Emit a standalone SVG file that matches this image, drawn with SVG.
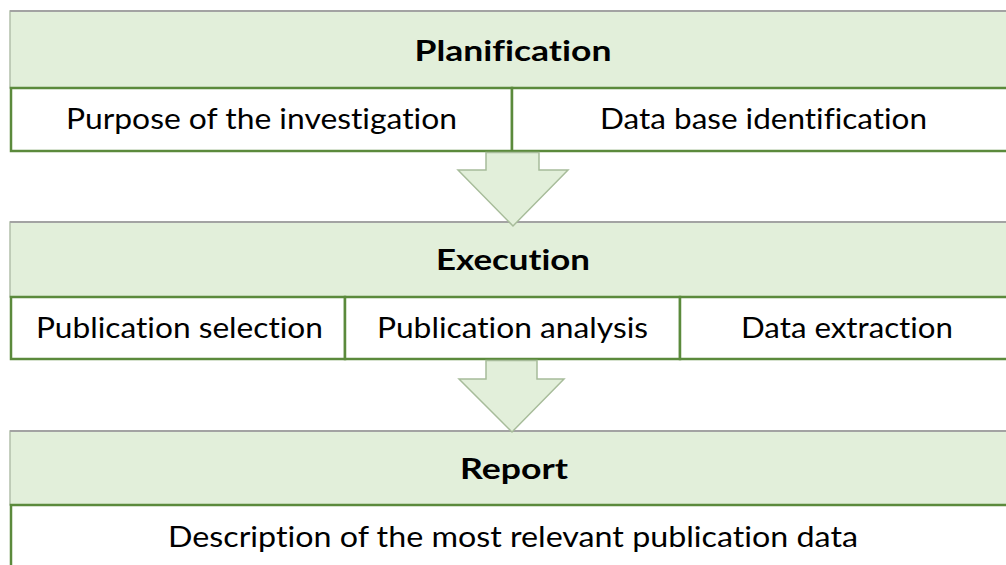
<svg xmlns="http://www.w3.org/2000/svg" width="1006" height="565" viewBox="0 0 1006 565">
  <style>
    .hdr { fill: #E2EFDA; stroke: #B3C0AB; stroke-width: 1.5; }
    .hdr-top { stroke: #A3A3A3; stroke-width: 2; }
    .row { fill: #FFFFFF; stroke: #5B8A3C; stroke-width: 2.5; }
    .arrow { fill: #E2EFDA; stroke: #A7BC9A; stroke-width: 1.5; stroke-linejoin: miter; }
    text { font-variant-ligatures: none; }
    .title { font-family: Lato, "Open Sans", "Liberation Sans", sans-serif; font-weight: bold; font-size: 29px; fill: #000; text-anchor: middle; }
    .cell { font-family: Lato, "Open Sans", "Liberation Sans", sans-serif; font-size: 29px; fill: #000; }
  </style>

  <rect width="1006" height="565" fill="#FFFFFF"/>

  <!-- Stage 1: planning -->
  <g id="planification">
    <rect class="hdr" x="10" y="11" width="1010" height="77"/>
    <line class="hdr-top" x1="10" y1="11" x2="1010" y2="11"/>
    <text class="title" x="513" y="61" textLength="197" lengthAdjust="spacingAndGlyphs">Planification</text>
  </g>
  <g id="purpose">
    <rect class="row" x="11" y="88" width="501" height="63"/>
    <text class="cell" x="66" y="129" textLength="391" lengthAdjust="spacingAndGlyphs">Purpose of the investigation</text>
  </g>
  <g id="database">
    <rect class="row" x="512" y="88" width="510" height="63"/>
    <text class="cell" x="600" y="129" textLength="327" lengthAdjust="spacingAndGlyphs">Data base identification</text>
  </g>

  <!-- Stage 2: execution -->
  <g id="execution">
    <rect class="hdr" x="10" y="222" width="1010" height="75"/>
    <line class="hdr-top" x1="10" y1="222" x2="1010" y2="222"/>
    <text class="title" x="513" y="270" textLength="154" lengthAdjust="spacingAndGlyphs">Execution</text>
  </g>
  <g id="selection">
    <rect class="row" x="11" y="297" width="334" height="62"/>
    <text class="cell" x="36" y="338" textLength="287" lengthAdjust="spacingAndGlyphs">Publication selection</text>
  </g>
  <g id="analysis">
    <rect class="row" x="345" y="297" width="335" height="62"/>
    <text class="cell" x="377" y="338" textLength="271" lengthAdjust="spacingAndGlyphs">Publication analysis</text>
  </g>
  <g id="extraction">
    <rect class="row" x="680" y="297" width="342" height="62"/>
    <text class="cell" x="741" y="338" textLength="212" lengthAdjust="spacingAndGlyphs">Data extraction</text>
  </g>

  <!-- Stage 3: report -->
  <g id="report">
    <rect class="hdr" x="10" y="431" width="1010" height="74"/>
    <line class="hdr-top" x1="10" y1="431" x2="1010" y2="431"/>
    <text class="title" x="514" y="479" textLength="108" lengthAdjust="spacingAndGlyphs">Report</text>
  </g>
  <g id="description">
    <rect class="row" x="11" y="505" width="1010" height="80"/>
    <text class="cell" x="168" y="547" textLength="690" lengthAdjust="spacingAndGlyphs">Description of the most relevant publication data</text>
  </g>

  <!-- Block arrows between stages -->
  <g id="connectors">
    <polygon class="arrow" points="486,152.5 539,152.5 539,170 568,170 513,226 458,170 486,170"/>
    <polygon class="arrow" points="486,360.5 537,360.5 537,379 564,379 512,432 459,379 486,379"/>
  </g>
</svg>
